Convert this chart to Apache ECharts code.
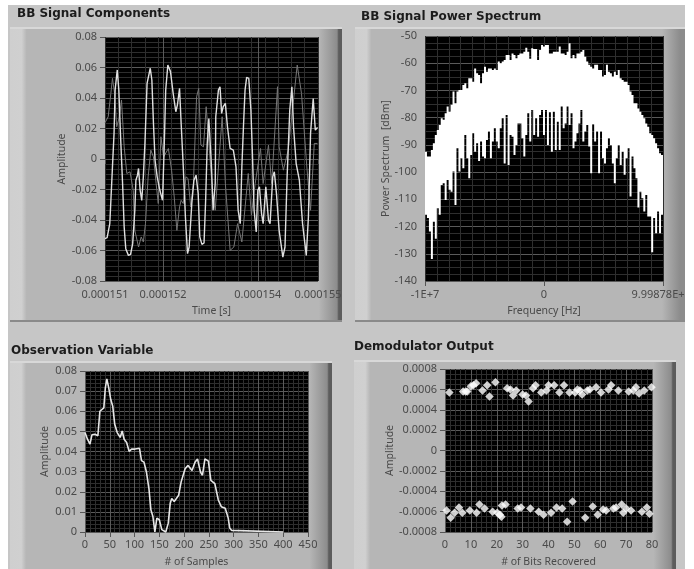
<!DOCTYPE html>
<html><head><meta charset="utf-8"><style>html,body{margin:0;padding:0;background:#fff}#c{width:694px;height:569px;filter:blur(0.5px)}</style>
<script src="https://cdn.jsdelivr.net/npm/echarts@6/dist/echarts.min.js"></script></head><body><div id="c"></div>
<script>
const brightTime=[151.00,151.04,151.09,151.14,151.17,151.19,151.23,151.26,151.29,151.33,151.36,151.39,151.44,151.48,151.52,151.56,151.58,151.61,151.63,151.66,151.69,151.72,151.75,151.79,151.85,151.88,151.91,151.94,151.98,152.03,152.08,152.11,152.14,152.18,152.23,152.28,152.33,152.36,152.40,152.43,152.47,152.51,152.55,152.58,152.63,152.67,152.71,152.75,152.78,152.82,152.86,152.89,152.92,152.95,152.97,153.00,153.03,153.07,153.08,153.13,153.16,153.19,153.22,153.26,153.30,153.35,153.41,153.46,153.50,153.54,153.57,153.60,153.63,153.66,153.70,153.74,153.77,153.80,153.84,153.87,153.90,153.94,153.97,154.02,154.07,154.10,154.15,154.18,154.22,154.27,154.34,154.38,154.42,154.47,154.51,154.54,154.59,154.65,154.71,154.78,154.82,154.86,154.91,154.95,154.99,155.00];
const brightAmp=[-0.0522,-0.0516,-0.0424,-0.0052,0.0168,0.0452,0.0584,0.0452,0.0168,-0.0161,-0.0446,-0.0588,-0.0632,-0.0625,-0.0555,-0.0336,-0.0139,-0.0106,-0.0062,-0.0205,-0.0271,-0.0117,0.0102,0.0496,0.0595,0.0518,0.0233,-0.0008,-0.0117,-0.0205,-0.0271,0.0058,0.0452,0.0616,0.0573,0.0430,0.0310,0.0354,0.0463,0.0233,-0.0052,-0.0380,-0.0621,-0.0577,-0.0292,-0.0139,-0.0106,-0.0227,-0.0511,-0.0560,-0.0551,-0.0271,0.0102,0.0266,0.0255,-0.0052,-0.0336,-0.0161,0.0277,0.0452,0.0474,0.0299,0.0343,0.0365,0.0211,0.0069,0.0058,-0.0052,-0.0336,-0.0424,-0.0052,0.0211,0.0452,0.0535,0.0529,0.0321,0.0014,-0.0336,-0.0479,-0.0205,-0.0183,-0.0358,-0.0424,-0.0183,-0.0402,-0.0424,-0.0117,-0.0084,-0.0227,-0.0468,-0.0643,-0.0577,-0.0117,0.0321,0.0474,0.0211,-0.0030,-0.0139,-0.0424,-0.0632,-0.0380,0.0168,0.0397,0.0189,0.0207,0.0210];
const dimTime=[151.00,151.06,151.11,151.14,151.18,151.22,151.27,151.31,151.36,151.41,151.47,151.53,151.56,151.63,151.68,151.72,151.76,151.81,151.86,151.91,151.96,152.00,152.05,152.10,152.13,152.19,152.25,152.30,152.35,152.40,152.43,152.47,152.52,152.56,152.61,152.66,152.72,152.76,152.80,152.85,152.90,152.96,153.02,153.07,153.20,153.26,153.35,153.42,153.49,153.57,153.69,153.75,153.82,153.92,153.97,154.07,154.13,154.24,154.27,154.35,154.44,154.61,154.69,154.79,154.86,154.93,154.99];
const dimAmp=[0.0238,0.0277,0.0430,0.0529,0.0430,0.0211,0.0277,0.0387,0.0080,-0.0095,-0.0084,-0.0205,-0.0468,-0.0577,-0.0511,-0.0544,-0.0424,-0.0117,0.0058,0.0014,-0.0161,-0.0292,0.0146,0.0014,0.0014,0.0069,-0.0073,-0.0249,-0.0468,-0.0314,-0.0271,-0.0292,-0.0117,-0.0128,-0.0314,-0.0161,0.0408,0.0463,0.0091,0.0080,0.0343,0.0058,-0.0227,-0.0336,0.0277,-0.0161,-0.0599,-0.0577,-0.0424,-0.0544,-0.0095,-0.0369,-0.0161,0.0069,-0.0161,0.0091,-0.0161,0.0474,0.0080,-0.0073,0.0058,0.0616,0.0430,-0.0052,-0.0336,0.0102,0.0102];
const spectrumTop=[-92.5,-94.3,-94.3,-91.9,-89.4,-86.4,-84.5,-82.7,-80.2,-80.8,-78.4,-75.9,-77.8,-75.3,-70.4,-74.7,-70.4,-69.8,-69.8,-68.0,-67.4,-69.2,-65.5,-65.5,-66.8,-61.9,-63.7,-64.3,-67.4,-63.7,-61.3,-63.1,-61.9,-61.9,-62.5,-61.9,-62.5,-59.4,-60.0,-59.4,-58.8,-57.0,-57.0,-58.8,-56.4,-57.0,-58.2,-57.0,-56.4,-56.4,-55.8,-54.3,-55.8,-58.4,-54.5,-54.8,-54.8,-58.8,-55.1,-53.3,
-53.9,-53.3,-53.3,-56.4,-56.4,-55.8,-55.8,-55.8,-53.9,-56.4,-56.4,-57.0,-55.8,-52.7,-58.2,-57.0,-58.2,-56.4,-56.4,-55.8,-55.1,-57.6,-59.4,-60.6,-61.3,-61.9,-60.6,-60.6,-62.5,-62.5,-64.9,-64.3,-60.6,-63.1,-63.7,-64.9,-63.1,-64.3,-62.5,-65.5,-66.2,-66.8,-66.8,-68.0,-70.4,-71.7,-74.7,-74.7,-76.6,-77.8,-79.0,-80.2,-82.1,-83.3,-85.7,-86.4,-87.6,-89.4,-91.2,-93.1,-93.7];
const spectrumBottom=[-115.7,-116.9,-121.8,-131.9,-118.2,-124.5,-113.3,-115.7,-104.7,-104.1,-110.2,-102.9,-106.5,-107.2,-99.8,-112.1,-91.2,-99.8,-94.9,-98.6,-86.4,-94.9,-102.3,-93.7,-85.7,-92.5,-89.4,-95.9,-88.8,-94.3,-94.9,-88.2,-85.1,-94.9,-88.8,-83.9,-88.8,-91.2,-83.9,-80.2,-96.8,-79.0,-97.4,-86.4,-87.0,-93.7,-90.0,-82.1,-82.1,-87.6,-94.3,-86.4,-78.4,-88.8,-77.2,-86.4,-80.2,-87.0,-79.0,-77.2,
-86.4,-77.2,-90.0,-78.0,-92.5,-77.8,-91.9,-81.5,-91.9,-75.9,-83.9,-82.1,-75.9,-82.7,-78.4,-91.2,-88.8,-85.7,-82.1,-77.2,-88.8,-85.1,-82.7,-90.6,-100.4,-82.4,-88.8,-85.1,-100.4,-85.1,-94.9,-96.8,-91.2,-87.6,-90.0,-96.8,-104.1,-94.9,-90.0,-97.4,-92.5,-101.0,-94.9,-91.2,-109.0,-94.3,-98.6,-102.3,-113.0,-107.2,-109.6,-114.5,-108.4,-116.3,-116.3,-129.4,-116.9,-122.5,-114.5,-122.5,-115.7];
const obsSamples=[0,5,10,14,20,26,30,38,41,44,48,52,56,60,65,71,75,79,84,89,94,101,110,114,119,124,129,133,137,141,145,150,155,158,163,168,172,175,180,189,194,198,202,208,216,222,227,233,237,242,249,254,262,269,275,283,289,292,296,300,400];
const obsAmp=[0.0494,0.0461,0.0437,0.0483,0.0486,0.0478,0.0600,0.0617,0.0715,0.0761,0.0715,0.0658,0.0625,0.0535,0.0494,0.0470,0.0502,0.0461,0.0445,0.0401,0.0412,0.0412,0.0416,0.0355,0.0347,0.0298,0.0216,0.0110,0.0077,0,0.0069,0.0061,0.0012,0.0008,0,0.0044,0.0142,0.0167,0.0151,0.0183,0.0249,0.0257,0.0314,0.0331,0.0306,0.0347,0.0363,0.0298,0.0282,0.0363,0.0352,0.0257,0.0240,0.0159,0.0126,0.0118,0.0069,0.0020,0.0008,0,0];
const bitIndex=[1.7,7,8,8.6,10,11,12,14.5,16.3,17.2,19.5,24,25.3,26.3,27.5,30,31.3,32.3,34,35,37.2,39.2,40,42.2,44.2,46,48.1,50.3,51.2,52.2,53,55,56,58.4,60.3,63.2,64.2,67,71,72.8,73.8,75,77,79.8,
0.6,2.2,3.7,5.4,6.7,9.6,12.2,13.3,15.3,18.4,20.2,21.2,21.8,22,23.4,28.1,29.4,33,36.2,38.1,41,43.1,45.3,47.2,49.3,54.2,57.1,59,61.1,62.3,65.1,66.1,68.3,68.9,70,71.9,76.1,78,79];
const bitAmp=[0.00057,0.00058,0.00058,0.00058,0.00063,0.00064,0.00066,0.00059,0.00064,0.00053,0.00067,0.00061,0.0006,0.00054,0.00059,0.00055,0.00054,0.00048,0.00061,0.00064,0.00057,0.00059,0.00064,0.00064,0.00057,0.00064,0.00057,0.00057,0.0006,0.00059,0.00055,0.00059,0.0006,0.00062,0.00057,0.0006,0.00064,0.00059,0.00058,0.00059,0.00062,0.00056,0.00059,0.00062,
-0.00059,-0.00066,-0.00061,-0.00056,-0.00061,-0.00059,-0.00061,-0.00053,-0.00057,-0.0006,-0.00061,-0.00063,-0.00065,-0.00054,-0.00053,-0.00057,-0.00056,-0.00057,-0.0006,-0.00063,-0.00061,-0.00056,-0.00057,-0.0007,-0.0005,-0.00066,-0.00055,-0.00063,-0.00058,-0.00059,-0.00057,-0.00056,-0.00053,-0.00061,-0.00057,-0.00059,-0.0006,-0.00056,-0.00062];
const timeTicks=[151,152.09,153.87,155];
const freqTicks=[-1e7,0,9.99878e6];

const zip=(a,b)=>a.map((v,i)=>[v,b[i]]);
const fMin=-1e7,fMax=9.99878e6,fStep=(fMax-fMin)/spectrumTop.length;
const spectrum=spectrumTop.map((t,i)=>[fMin+i*fStep,t,spectrumBottom[i]]);

const FONT='"Noto Sans"',TXT='#4a4a4a',MAJ='#5a5a5a',MIN='#2e2e2e';
const lab=(f,m)=>({color:TXT,fontFamily:FONT,fontSize:11,margin:m,formatter:f,hideOverlap:false,showMinLabel:true,showMaxLabel:true});
const tick={show:true,length:5,lineStyle:{color:'#555',width:1}};
const split={show:true,lineStyle:{color:MAJ,width:1,type:'solid'}};
const minor=(n)=>({minorTick:{show:false,splitNumber:n},minorSplitLine:{show:true,lineStyle:{color:MIN,width:1}}});
const nameS={color:TXT,fontFamily:FONT,fontSize:10.5};
const yAx=(g,mn,mx,iv,name,gap,n,f)=>({type:'value',gridIndex:g,min:mn,max:mx,interval:iv,name,nameLocation:'middle',nameGap:gap,nameMoveOverlap:false,nameRotate:90,nameTextStyle:nameS,axisLine:{show:false},axisTick:tick,axisLabel:lab(f,8),splitLine:split,...minor(n)});
const xAx=(g,mn,mx,iv,name,gap,n,f)=>({type:'value',gridIndex:g,min:mn,max:mx,interval:iv,name,nameLocation:'middle',nameGap:gap,nameMoveOverlap:false,nameTextStyle:nameS,axisLine:{show:false},axisTick:tick,axisLabel:lab(f,7),splitLine:split,...minor(n)});
const xCustom=(g,mn,mx,vals,name,gap,f,rich)=>({type:'value',gridIndex:g,min:mn,max:mx,name,nameLocation:'middle',nameGap:gap,nameMoveOverlap:false,nameTextStyle:nameS,axisLine:{show:false},axisTick:{...tick,customValues:vals},axisLabel:{...lab(f,8),customValues:vals,rich},splitLine:split});
const xMinor=(g,mn,mx,iv)=>({type:'value',gridIndex:g,min:mn,max:mx,interval:iv,axisLine:{show:false},axisTick:{show:false},axisLabel:{show:false},splitLine:{show:true,lineStyle:{color:MIN,width:1}}});
const zeroFix=(d)=>v=>Math.abs(v)<1e-9?'0':v.toFixed(d);

function panel(x,y,w,h,edge){return [
 {type:'rect',z:-9,shape:{x,y,width:w,height:h},style:{fill:{type:'linear',x:0,y:0,x2:1,y2:0,colorStops:[{offset:0,color:'#cfcfcf'},{offset:0.035,color:'#d0d0d0'},{offset:0.05,color:'#b6b6b6'},{offset:0.93,color:'#b6b6b6'},{offset:0.985,color:'#8c8c8c'},{offset:0.99,color:edge},{offset:1,color:edge}]}}},
 {type:'rect',z:-8,shape:{x,y,width:w,height:2},style:{fill:'#d8d8d8'}},
 {type:'rect',z:-8,shape:{x,y:y+h-2,width:w,height:2},style:{fill:'#8a8a8a'}}];}
const titleS=(text,left,top)=>({text,left,top,textStyle:{fontFamily:'"DejaVu Sans"',fontWeight:'bold',fontSize:12,color:'#1c1c1c'},padding:0});

const chart=echarts.init(document.getElementById('c'),null,{renderer:'canvas'});
chart.setOption({animation:false,backgroundColor:'#fff',
 graphic:[{type:'rect',z:-10,shape:{x:8,y:5,width:677,height:564},style:{fill:'#c6c6c6'}},
  ...panel(10,27,332,295,'#5c5c5c'),...panel(355,27,330,295,'#8c8c8c'),...panel(10,361,322,220,'#5c5c5c'),...panel(354,360,322,220,'#5c5c5c')],
 title:[titleS('BB Signal Components',17,8),titleS('BB Signal Power Spectrum',361,11),titleS('Observation Variable',11,345),titleS('Demodulator Output',354,341)],
 grid:[{left:105,top:37,width:213,height:244},{left:425,top:36,width:238,height:245},{left:85,top:371,width:223,height:163},{left:445,top:369,width:207,height:164}].map(g=>({...g,show:true,backgroundColor:'#000',borderWidth:0})),
 xAxis:[
  xCustom(0,151,155,timeTicks,'Time [s]',25,v=>(v/1e6).toFixed(6)),
  xMinor(0,151,155,0.25),
  xCustom(1,fMin,fMax,freqTicks,'Frequency [Hz]',25,v=>v<0?'-1E+7':(v===0?'0':'{r|9.99878E+}'),{r:{padding:[0,10,0,0],color:TXT,fontFamily:FONT,fontSize:11}}),
  xMinor(1,fMin,fMax,1e6),
  xAx(2,0,450,50,'# of Samples',25,5,v=>String(v)),
  xAx(3,0,80,10,'# of Bits Recovered',25,5,v=>String(v))],
 yAxis:[
  yAx(0,-0.08,0.08,0.02,'Amplitude',37,6,zeroFix(2)),
  yAx(1,-140,-50,10,'Power Spectrum  [dBm]',33,4,v=>String(v)),
  yAx(2,0,0.08,0.01,'Amplitude',34,5,zeroFix(2)),
  yAx(3,-0.0008,0.0008,0.0002,'Amplitude',49,4,zeroFix(4))],
 series:[
  {type:'line',name:'Component Q',xAxisIndex:0,yAxisIndex:0,data:zip(dimTime,dimAmp),showSymbol:false,lineStyle:{color:'#777',width:1}},
  {type:'line',name:'Component I',xAxisIndex:0,yAxisIndex:0,data:zip(brightTime,brightAmp),showSymbol:false,lineStyle:{color:'#e0e0e0',width:1.4}},
  {type:'custom',name:'Spectrum',xAxisIndex:2,yAxisIndex:1,data:spectrum,encode:{x:0,y:[1,2]},clip:true,
   renderItem:(p,api)=>{
    if(p.dataIndex!==0) return null;
    const up=[],down=[];
    spectrum.forEach(d=>{
     up.push(api.coord([d[0],d[1]]),api.coord([d[0]+fStep,d[1]]));
     down.unshift(api.coord([d[0]+fStep,d[2]]),api.coord([d[0],d[2]]));
    });
    return {type:'polygon',shape:{points:up.concat(down)},style:{fill:'#fff'}};}},
  {type:'line',name:'Observation',xAxisIndex:4,yAxisIndex:2,data:zip(obsSamples,obsAmp),showSymbol:false,clip:false,lineStyle:{color:'#e6e6e6',width:1.6}},
  {type:'scatter',name:'Bits',xAxisIndex:5,yAxisIndex:3,data:zip(bitIndex,bitAmp),symbol:'diamond',symbolSize:8.5,itemStyle:{color:'#fff'}}
 ]});
</script></body></html>
